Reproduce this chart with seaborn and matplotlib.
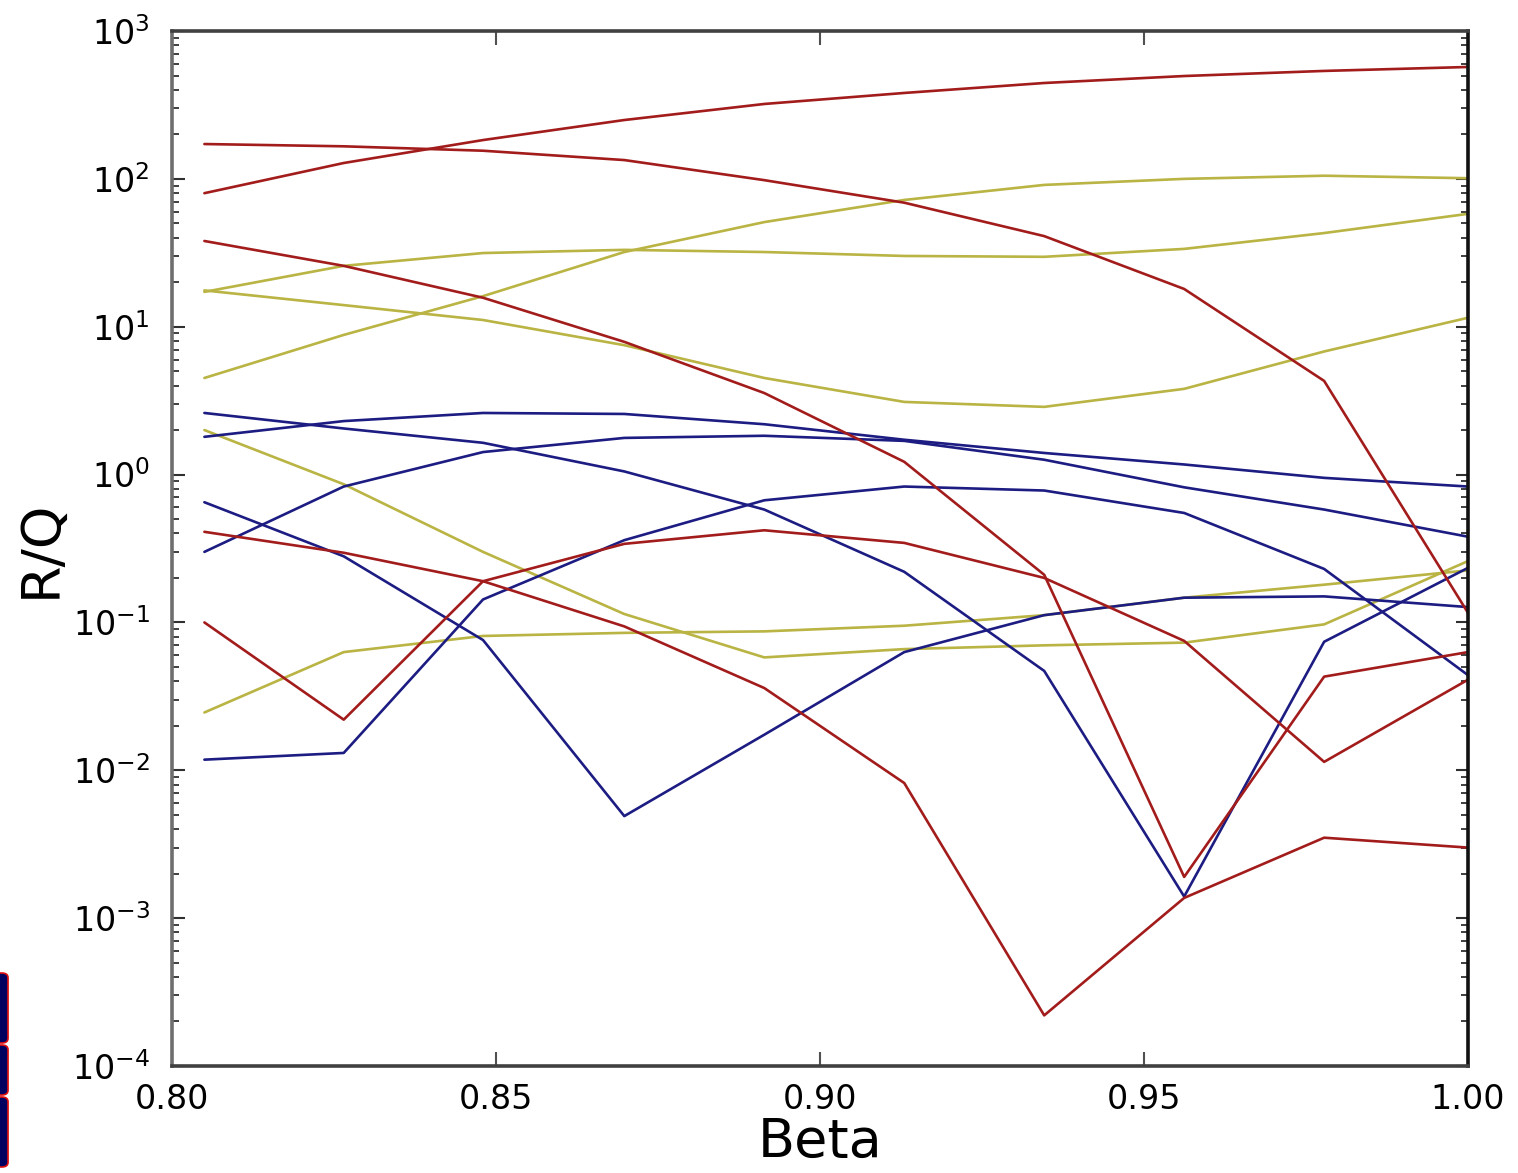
import matplotlib
matplotlib.use("Agg")
import matplotlib.pyplot as plt
from matplotlib.patches import FancyBboxPatch
from matplotlib.ticker import LogLocator, FixedLocator, FormatStrFormatter
import numpy as np
import pandas as pd
import seaborn as sns

# Relative velocity of the cavity scan
beta = [0.805, 0.8265, 0.848, 0.8698, 0.8914, 0.913, 0.9346, 0.9562, 0.9778, 1.0]

# R/Q of each mode versus beta, grouped by mode family
red_1 = [80, 128, 183, 250, 321, 381, 445, 496, 537, 571]
red_2 = [172, 166, 155, 134, 98, 69, 41, 18, 4.3, 0.116]
red_3 = [38, 25.8, 15.7, 7.9, 3.56, 1.22, 0.21, 0.0019, 0.043, 0.063]
red_4 = [0.41, 0.296, 0.19, 0.094, 0.036, 0.0082, 0.00022, 0.00137, 0.0035, 0.003]
red_5 = [0.10, 0.022, 0.19, 0.34, 0.42, 0.345, 0.20, 0.075, 0.0114, 0.041]

yellow_1 = [17.2, 25.8, 31.5, 33.1, 32.0, 30.1, 29.7, 33.6, 43, 58]
yellow_2 = [17.6, 14.0, 11.1, 7.5, 4.5, 3.1, 2.87, 3.8, 6.8, 11.5]
yellow_3 = [4.5, 8.8, 16.1, 32, 51, 72, 91, 100, 105, 101]
yellow_4 = [2.0, 0.86, 0.30, 0.114, 0.058, 0.066, 0.070, 0.073, 0.097, 0.26]
yellow_5 = [0.0246, 0.063, 0.081, 0.085, 0.087, 0.095, 0.112, 0.147, 0.18, 0.225]

blue_1 = [1.80, 2.30, 2.61, 2.57, 2.19, 1.72, 1.40, 1.17, 0.95, 0.83]
blue_2 = [0.30, 0.83, 1.42, 1.77, 1.83, 1.69, 1.26, 0.82, 0.58, 0.38]
blue_3 = [2.61, 2.05, 1.64, 1.05, 0.58, 0.22, 0.047, 0.0014, 0.074, 0.234]
blue_4 = [0.0118, 0.0131, 0.143, 0.36, 0.67, 0.83, 0.78, 0.55, 0.23, 0.044]
blue_5 = [0.65, 0.28, 0.076, 0.0049, 0.0174, 0.063, 0.112, 0.147, 0.15, 0.127]

x_ticks = [0.80, 0.85, 0.90, 0.95, 1.00]

series = {
    ("yellow", "y1"): yellow_1, ("yellow", "y2"): yellow_2, ("yellow", "y3"): yellow_3,
    ("yellow", "y4"): yellow_4, ("yellow", "y5"): yellow_5,
    ("blue", "b1"): blue_1, ("blue", "b2"): blue_2, ("blue", "b3"): blue_3,
    ("blue", "b4"): blue_4, ("blue", "b5"): blue_5,
    ("red", "r1"): red_1, ("red", "r2"): red_2, ("red", "r3"): red_3,
    ("red", "r4"): red_4, ("red", "r5"): red_5,
}
rows = []
for (family, mode), vals in series.items():
    for b, v in zip(beta, vals):
        rows.append({"family": family, "mode": mode, "beta": b, "rq": v})
df = pd.DataFrame(rows)

palette = {"red": "#a31c1c", "yellow": "#b9b443", "blue": "#1c1c82"}

sns.set_style("ticks")
plt.rcParams["font.family"] = ["DejaVu Sans"]
plt.rcParams["mathtext.fontset"] = "dejavusans"
plt.rcParams["axes.unicode_minus"] = False
plt.rcParams["text.color"] = "black"
plt.rcParams["axes.labelcolor"] = "black"
plt.rcParams["xtick.labelcolor"] = "black"
plt.rcParams["ytick.labelcolor"] = "black"

fig = plt.figure(figsize=(15.18, 11.73), dpi=100)
ax = fig.add_axes([172 / 1518, 1 - 1066 / 1173, (1468 - 172) / 1518, (1066 - 31) / 1173])

sns.lineplot(data=df, x="beta", y="rq", hue="family", units="mode", estimator=None,
             palette=palette, hue_order=["yellow", "blue", "red"], linewidth=1.9,
             sort=False, legend=False, ax=ax)

ax.set_yscale("log")
ax.set_xlim(0.80, 1.00)
ax.set_ylim(1e-4, 1e3)
ax.xaxis.set_major_locator(FixedLocator(x_ticks))
ax.xaxis.set_major_formatter(FormatStrFormatter("%.2f"))
ax.yaxis.set_major_locator(LogLocator(base=10, numticks=20))
ax.yaxis.set_minor_locator(LogLocator(base=10, subs=np.arange(2, 10), numticks=20))

ax.tick_params(axis="x", which="major", direction="in", top=True, bottom=True,
               length=10, width=1.5, color="#505050", labelsize=24, pad=12,
               labelcolor="black")
ax.tick_params(axis="y", which="major", direction="in", left=True, right=True,
               length=9, width=1.5, color="#303030", labelsize=24, pad=16,
               labelcolor="black")
ax.tick_params(axis="y", which="minor", direction="in", left=True, right=True,
               length=5, width=1.3, color="#303030")
ax.tick_params(axis="x", which="minor", bottom=False, top=False)

for side, col in [("left", "#6e6e6e"), ("bottom", "#404040"),
                  ("top", "#404040"), ("right", "#111111")]:
    ax.spines[side].set_visible(True)
    ax.spines[side].set_color(col)
    ax.spines[side].set_linewidth(2.6)

ax.set_xlabel("Beta", fontsize=39, labelpad=0, color="black")
ax.set_ylabel("R/Q", fontsize=39, labelpad=4, color="black")
ax.grid(False)

# Logo fragment at the lower left edge of the page
for y0, y1 in [(973, 1043), (1045, 1095), (1097, 1167)]:
    fig.patches.append(FancyBboxPatch((-0.006, 1 - y1 / 1173), 0.0113, (y1 - y0) / 1173,
                                      boxstyle="round,pad=0,rounding_size=0.004",
                                      transform=fig.transFigure, facecolor="#02005e",
                                      edgecolor="#e01010", linewidth=1.2, zorder=5))

fig.savefig("out.png", dpi=100, facecolor="white")
